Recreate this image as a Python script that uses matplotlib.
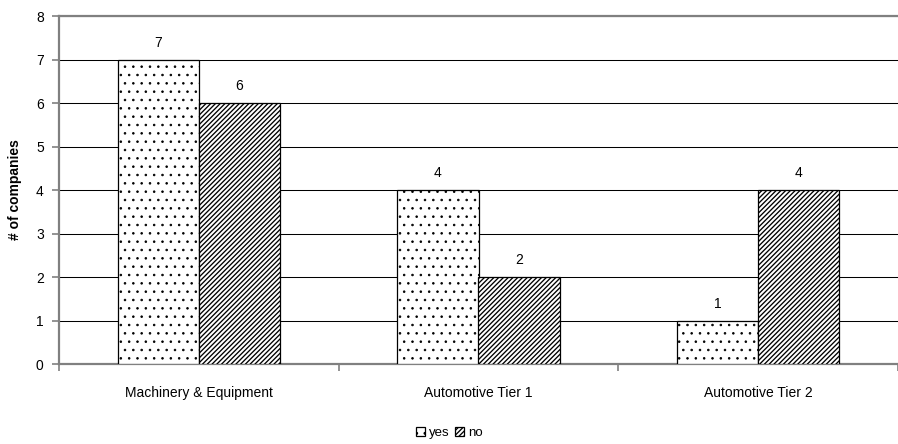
import matplotlib
matplotlib.use("Agg")
import matplotlib.pyplot as plt
import numpy as np

categories = ["Machinery & Equipment", "Automotive Tier 1", "Automotive Tier 2"]
yes_vals = [7, 4, 1]
no_vals = [6, 2, 4]
series_names = ["yes", "no"]
y_ticks = [0, 1, 2, 3, 4, 5, 6, 7, 8]

plt.rcParams["font.family"] = ["Liberation Sans", "DejaVu Sans"]

fig = plt.figure(figsize=(8.98, 4.44), dpi=100)
ax = fig.add_axes([59 / 898, 80 / 444, 1 - 59 / 898, (364 - 16) / 444])

x = np.arange(len(categories))
w = 0.29

# dotted fill for "yes"
plt.rcParams["hatch.linewidth"] = 0.6
plt.rcParams["hatch.color"] = "#606060"
b1 = ax.bar(x - w / 2, yes_vals, w, facecolor="white", edgecolor="black",
            hatch="..", linewidth=0.9, label=series_names[0], zorder=3)

# diagonal fill for "no"
plt.rcParams["hatch.linewidth"] = 0.95
plt.rcParams["hatch.color"] = "#5a5a5a"
b2 = ax.bar(x + w / 2, no_vals, w, facecolor="white", edgecolor="black",
            hatch="/" * 7, linewidth=0.9, label=series_names[1], zorder=3)

for bars, vals in ((b1, yes_vals), (b2, no_vals)):
    for rect, v in zip(bars, vals):
        ax.text(rect.get_x() + rect.get_width() / 2, v + 0.22, str(v),
                ha="center", va="bottom", fontsize=10)

ax.set_xlim(-0.5, len(categories) - 0.5)
ax.set_ylim(0, 8)
ax.set_yticks(y_ticks)
ax.set_xticks(x)
ax.set_xticklabels(categories, fontsize=10)
ax.set_xticks(np.arange(len(categories) + 1) - 0.5, minor=True)
ax.tick_params(axis="x", which="major", length=0, pad=16)
ax.tick_params(axis="x", which="minor", length=5, color="#808080", width=1.2)
ax.tick_params(axis="y", labelsize=10, length=5, color="#808080", width=1.2, pad=6)
ax.grid(axis="y", color="black", linewidth=0.75, zorder=0)
ax.set_axisbelow(True)

ax.spines["right"].set_visible(False)
for side in ("left", "bottom", "top"):
    ax.spines[side].set_color("#808080")
    ax.spines[side].set_linewidth(1.6)

ax.set_ylabel("# of companies", fontsize=10, fontweight="bold", labelpad=10)

fig.legend(handles=[b1, b2], labels=series_names, loc="center",
           bbox_to_anchor=(0.5, 1 - 433 / 444), ncol=2, frameon=False,
           fontsize=9.5, handlelength=0.7, handleheight=0.7, handletextpad=0.3,
           columnspacing=0.4)

fig.savefig("out.png", dpi=100)
